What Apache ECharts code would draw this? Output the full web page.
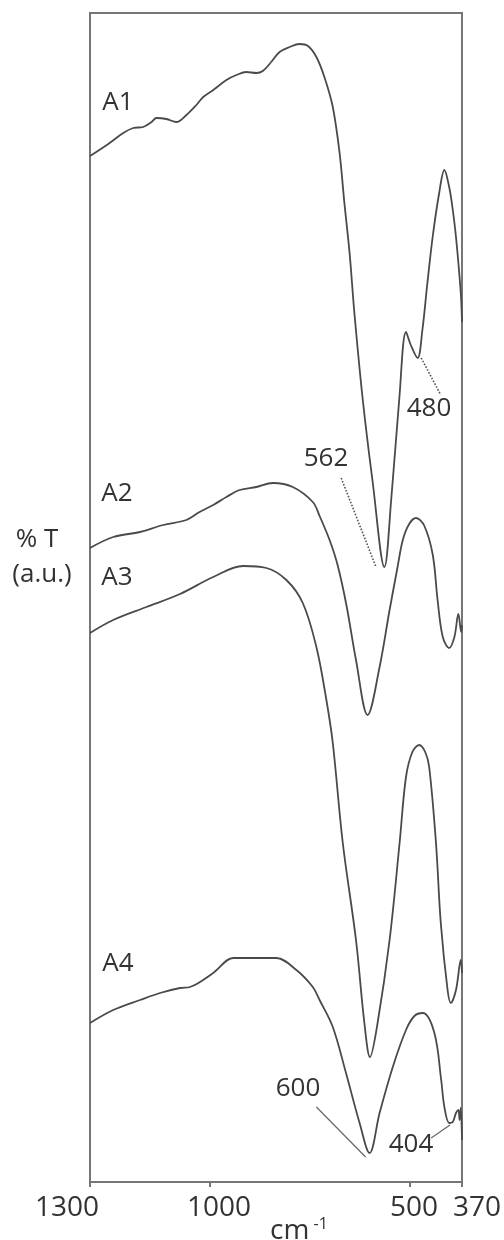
<!DOCTYPE html>
<html>
<head>
<meta charset="utf-8">
<script src="https://cdn.jsdelivr.net/npm/echarts@6/dist/echarts.min.js"></script>
<style>
  html, body { margin: 0; padding: 0; background: #fff; }
  #main { width: 504px; height: 1240px; }
</style>
</head>
<body>
<div id="main"></div>
<script>
// FTIR spectra, x = wavenumber (cm-1), y = transmittance (a.u., offset traces)
var A1 = [[1300,1026],[1258,1037],[1217,1049],[1192,1054],[1167,1055],[1146,1060],[1134,1064],
  [1109,1063],[1084,1060],[1059,1067],[1034,1077],[1017,1085],[992,1092],[959,1102],[934,1107],
  [909,1110],[884,1109],[868,1111],[847,1120],[826,1130],[801,1135],[776,1138],[755,1136],
  [734,1125],[714,1105],[693,1075],[676,1029],[664,979],[651,929],[639,869],[618,782],[593,699],
  [564,615],[547,682],[527,782],[510,850],[498,837],[481,824],[469,852],[457,897],[443,946],
  [427,989],[414,1012],[402,995],[394,975],[385,945],[373,889],[370,860]];

var A2 = [[1300,634],[1242,645],[1175,650],[1117,657],[1059,662],[1026,670],[992,677],[959,685],
  [926,692],[884,695],[843,699],[793,695],[743,680],[726,666],[701,642],[681,617],[659,577],
  [635,522],[606,467],[576,515],[551,572],[531,615],[518,642],[502,658],[485,664],[464,656],
  [443,627],[431,582],[418,545],[402,534],[389,545],[379,568],[372,550],[370,557]];

var A3 = [[1300,549],[1242,562],[1159,575],[1075,588],[992,605],[917,616],[859,614],[809,602],
  [768,579],[734,535],[709,482],[693,439],[668,339],[635,242],[614,159],[600,125],[581,159],
  [551,242],[526,339],[510,405],[494,430],[477,437],[462,430],[452,415],[435,339],[423,259],
  [406,192],[398,179],[385,192],[373,222],[370,209]];

var A4 = [[1300,159],[1242,172],[1175,182],[1125,189],[1075,194],[1050,195],[992,209],[942,224],
  [893,224],[834,224],[784,212],[743,195],[726,182],[693,155],[660,109],[626,59],[601,29],
  [576,69],[543,115],[510,152],[489,166],[468,169],[439,149],[422,102],[414,75],[402,59],
  [393,60],[385,69],[379,72],[376,62],[373,74],[370,42]];

var xTicks = [1300, 1000, 500, 370];
// sideways nudge of each tick label (px), as placed in the figure
var tickShift = {1300: -23, 1000: 9, 500: 4, 370: 15};

// leader lines from band labels to peaks, in data coordinates
var lead562 = [[672,704],[585,615]];
var lead480 = [[472,824],[423,787]];
var lead600 = [[734,75],[611,25]];
var lead404 = [[447,44],[400,57]];

var FONT = '"Open Sans", sans-serif';
var LINE = '#4a4a4a';

var myChart = echarts.init(document.getElementById('main'));

function spectrum(name, data, marks) {
    var s = {
        name: name,
        type: 'line',
        data: data,
        showSymbol: false,
        smooth: 0.35,
        lineStyle: { color: LINE, width: 1.8 },
        itemStyle: { color: LINE },
        z: 3
    };
    if (marks) s.markLine = marks;
    return s;
}

var rich = {};
xTicks.forEach(function (v) {
    var s = tickShift[v];
    rich['t' + v] = {
        fontFamily: FONT, fontSize: 28, color: '#333',
        padding: s >= 0 ? [0, 0, 0, 2 * s] : [0, -2 * s, 0, 0]
    };
});

function txt(text, x, y, size) {
    return {
        type: 'text', x: x, y: y, z: 10,
        style: { text: text, fontFamily: FONT, fontSize: size || 26, fill: '#333',
                 align: 'center', verticalAlign: 'middle' }
    };
}

var option = {
    animation: false,
    backgroundColor: '#fff',
    grid: {
        left: 90, right: 41, top: 13, bottom: 58,
        show: true, borderColor: '#767676', borderWidth: 2
    },
    xAxis: {
        type: 'value',
        min: 370, max: 1300,
        inverse: true,
        splitLine: { show: false },
        axisLine: { show: false },
        axisTick: { show: true, customValues: xTicks, length: 5, lineStyle: { color: '#767676', width: 2 } },
        axisLabel: {
            customValues: xTicks,
            margin: 12,
            formatter: function (v) { return '{t' + v + '|' + v + '}'; },
            rich: rich
        }
    },
    yAxis: {
        type: 'value',
        min: 0, max: 1169,
        show: false
    },
    series: [
        spectrum('A1', A1, { silent: true, symbol: ['none', 'none'], label: { show: false },
            lineStyle: { color: '#555', width: 1.6, type: 'dotted' },
            data: [[{ coord: lead562[0] }, { coord: lead562[1] }], [{ coord: lead480[0] }, { coord: lead480[1] }]] }),
        spectrum('A2', A2),
        spectrum('A3', A3),
        spectrum('A4', A4, { silent: true, symbol: ['none', 'none'], label: { show: false },
            lineStyle: { color: '#666', width: 1.2, type: 'solid' },
            data: [[{ coord: lead600[0] }, { coord: lead600[1] }], [{ coord: lead404[0] }, { coord: lead404[1] }]] })
    ],
    graphic: [
        txt('A1', 118, 103),
        txt('A2', 117, 494),
        txt('A3', 117, 578),
        txt('A4', 118, 964),
        txt('562', 326, 459),
        txt('480', 429, 409),
        txt('600', 298, 1089),
        txt('404', 411, 1145),
        txt('% T', 37, 540),
        txt('(a.u.)', 42, 575),
        {
            type: 'text', x: 299, y: 1231, z: 10,
            style: {
                text: '{c|cm}{s| -1}', align: 'center', verticalAlign: 'middle',
                rich: {
                    c: { fontFamily: FONT, fontSize: 28, fill: '#333' },
                    s: { fontFamily: FONT, fontSize: 16, fill: '#333', verticalAlign: 'top', padding: [0, 0, 14, 0] }
                }
            }
        }
    ]
};

myChart.setOption(option);
</script>
</body>
</html>
